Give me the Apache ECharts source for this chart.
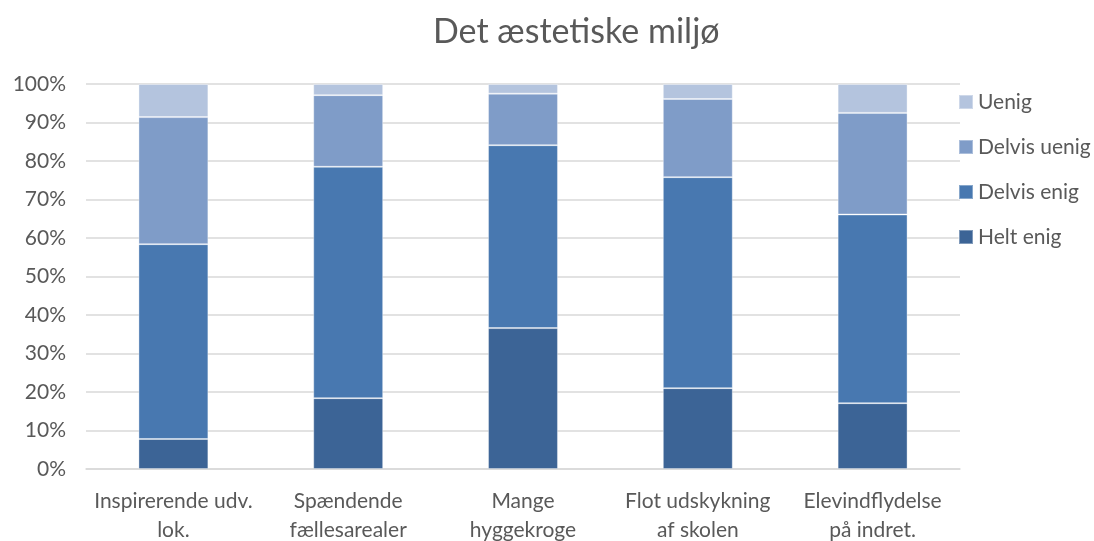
<!DOCTYPE html>
<html>
<head>
<meta charset="utf-8">
<script src="https://cdn.jsdelivr.net/npm/echarts@6/dist/echarts.min.js"></script>
<style>
  html, body { margin: 0; padding: 0; background: #fff; }
  #chart { width: 1094px; height: 541px; }
</style>
</head>
<body>
<div id="chart"></div>
<script>
// data (percent)
const categories = ['Inspirerende udv.\nlok.', 'Spændende\nfællesarealer', 'Mange\nhyggekroge', 'Flot udskykning\naf skolen', 'Elevindflydelse\npå indret.'];
const heltEnig = [7.8, 18.4, 36.6, 21.0, 17.1];
const delvisEnig = [50.6, 60.1, 47.5, 54.8, 49.0];
const delvisUenig = [33.0, 18.6, 13.4, 20.3, 26.4];
const uenig = [8.6, 2.9, 2.5, 3.9, 7.5];
const yTicks = [0, 10, 20, 30, 40, 50, 60, 70, 80, 90, 100];

const font = 'Lato, "Liberation Sans", sans-serif';
const textColor = '#595959';

function bar(name, data, color) {
    return {
        name: name,
        type: 'bar',
        stack: 'total',
        data: data,
        barWidth: '40%',
        itemStyle: { color: color, borderColor: 'rgba(255,255,255,0.35)', borderWidth: 1 }
    };
}

var myChart = echarts.init(document.getElementById('chart'));
var option = {
    animation: false,
    title: {
        text: 'Det æstetiske miljø',
        left: 428,
        top: 10,
        textStyle: { color: textColor, fontFamily: font, fontSize: 34, fontWeight: 'normal' }
    },
    legend: {
        orient: 'vertical',
        left: 953,
        top: 85,
        itemWidth: 14,
        itemHeight: 14,
        itemGap: 21,
        icon: 'rect',
        data: ['Uenig', 'Delvis uenig', 'Delvis enig', 'Helt enig'],
        textStyle: { color: textColor, fontFamily: font, fontSize: 21, lineHeight: 24, padding: [0, 0, 0, 0] }
    },
    grid: { left: 86, right: 134, top: 84, bottom: 72, containLabel: false, outerBoundsMode: 'none' },
    xAxis: {
        type: 'category',
        data: categories,
        axisLine: { lineStyle: { color: '#d9d9d9', width: 1.5 } },
        axisTick: { show: false },
        axisLabel: { color: textColor, fontFamily: font, fontSize: 21, lineHeight: 29, margin: 18, interval: 0 }
    },
    yAxis: {
        type: 'value',
        min: 0,
        max: 100,
        interval: 10,
        axisLine: { show: false },
        axisTick: { show: false },
        splitLine: { lineStyle: { color: '#d9d9d9', width: 1.5 } },
        axisLabel: {
            color: textColor, fontFamily: font, fontSize: 21, margin: 20,
            formatter: function (v) { return yTicks.indexOf(v) >= 0 ? v + '%' : ''; }
        }
    },
    series: [
        bar('Helt enig', heltEnig, '#3c6496'),
        bar('Delvis enig', delvisEnig, '#4878b0'),
        bar('Delvis uenig', delvisUenig, '#7f9cc8'),
        bar('Uenig', uenig, '#b4c4de')
    ]
};
myChart.setOption(option);
</script>
</body>
</html>
